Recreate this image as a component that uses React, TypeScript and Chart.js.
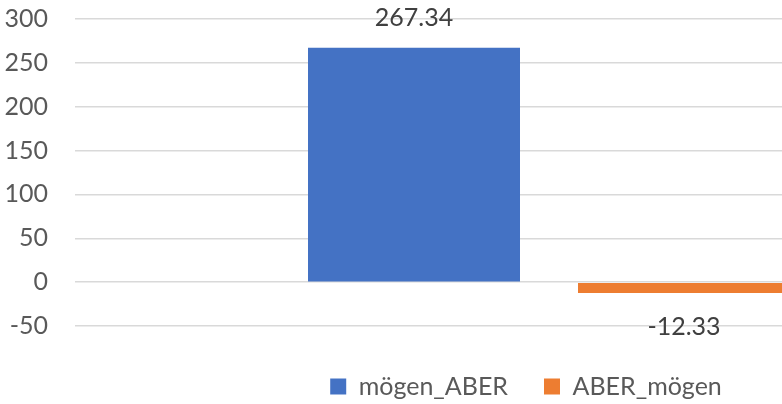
import React, { useEffect, useRef } from "react";
import { Chart, registerables } from "chart.js";

Chart.register(...registerables);

// Single-category comparison of the two word orders
const categories: string[] = [""];
const seriesNames: string[] = ["mögen_ABER", "ABER_mögen"];
const moegenAber: number[] = [267.34];
const aberMoegen: number[] = [-12.33];
const seriesColors: string[] = ["#4472C4", "#ED7D31"];
const yMin = -50;
const yMax = 300;
const yStep = 50;

const FONT = "Lato, 'Open Sans', sans-serif";

// Writes each bar's value just beyond the end of the bar
const valueLabels = {
  id: "valueLabels",
  afterDatasetsDraw(chart: any) {
    const ctx = chart.ctx;
    ctx.save();
    ctx.font = `25px ${FONT}`;
    ctx.fillStyle = "#404040";
    ctx.textAlign = "center";
    ctx.textBaseline = "middle";
    chart.data.datasets.forEach((ds: any, di: number) => {
      const meta = chart.getDatasetMeta(di);
      meta.data.forEach((bar: any, i: number) => {
        const v = ds.data[i] as number;
        const y = v >= 0 ? bar.y - 30 : bar.y + 34;
        ctx.fillText(v.toFixed(2), bar.x, y);
      });
    });
    ctx.restore();
  },
};

export default function App() {
  const canvasRef = useRef<HTMLCanvasElement | null>(null);

  useEffect(() => {
    const canvas = canvasRef.current;
    if (!canvas) return;
    const chart = new Chart(canvas, {
      type: "bar",
      data: {
        labels: categories,
        datasets: [
          {
            label: seriesNames[0],
            data: moegenAber,
            backgroundColor: seriesColors[0],
            borderWidth: 0,
          },
          {
            label: seriesNames[1],
            data: aberMoegen,
            backgroundColor: seriesColors[1],
            borderWidth: 0,
          },
        ],
      },
      options: {
        responsive: false,
        animation: false,
        devicePixelRatio: 1,
        layout: { padding: { top: 19, right: 0, left: 0, bottom: 0 } },
        datasets: {
          bar: { categoryPercentage: 0.5696, barPercentage: 0.7852 },
        },
        plugins: {
          legend: {
            position: "bottom",
            labels: {
              boxWidth: 16,
              boxHeight: 16,
              padding: 36,
              color: "#595959",
              font: { family: FONT, size: 25 },
            },
          },
          tooltip: { enabled: false },
        },
        scales: {
          x: {
            grid: { display: false },
            border: { display: false },
            ticks: { display: false },
            afterFit: (scale: any) => {
              scale.height = 12;
            },
          },
          y: {
            min: yMin,
            max: yMax,
            border: { display: false },
            grid: { color: "#d9d9d9", lineWidth: 1.5, drawTicks: false },
            ticks: {
              stepSize: yStep,
              padding: 27,
              color: "#595959",
              font: { family: FONT, size: 25 },
            },
            afterFit: (scale: any) => {
              scale.width = 75;
              scale.paddingTop = 15;
              scale.paddingBottom = 15;
            },
          },
          // empty margin on the right of the plot area
          yRight: {
            position: "right",
            grid: { display: false },
            border: { display: false },
            ticks: { display: false },
            afterFit: (scale: any) => {
              scale.width = 29;
              scale.paddingTop = 0;
              scale.paddingBottom = 0;
            },
          },
        },
      },
      plugins: [valueLabels],
    });
    return () => chart.destroy();
  }, []);

  return (
    <div
      style={{
        position: "fixed",
        left: 0,
        top: 0,
        width: 782,
        height: 404,
        overflow: "hidden",
        background: "#ffffff",
      }}
    >
      <canvas ref={canvasRef} width={1052} height={409} style={{ display: "block" }} />
    </div>
  );
}
